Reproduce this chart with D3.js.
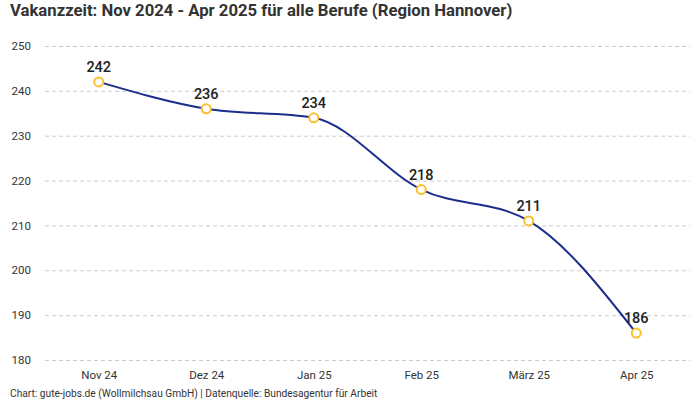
<!DOCTYPE html>
<html>
<head>
<meta charset="utf-8">
<script src="https://cdn.jsdelivr.net/npm/d3@7"></script>
<style>
  body { margin: 0; background: #fff; }
  text { font-family: Roboto, sans-serif; }
</style>
</head>
<body>
<div id="chart"></div>
<script>
const months = ["Nov 24", "Dez 24", "Jan 25", "Feb 25", "März 25", "Apr 25"]
const vakanz = [242, 236, 234, 218, 211, 186]
const yTicks = [180, 190, 200, 210, 220, 230, 240, 250]

const size = [700, 400]
const margin = ({top: 46, right: 10, bottom: 40, left: 45})

const svg = d3.create("svg")
  .attr("width", size[0])
  .attr("height", size[1])

const scaleX = d3.scalePoint()
  .domain(months)
  .range([margin.left, size[0] - margin.right])
  .padding(0.5)

const scaleY = d3.scaleLinear()
  .domain([180, 250])
  .range([size[1] - margin.bottom, margin.top])

// title
svg.append("text")
  .attr("x", 10)
  .attr("y", 16)
  .attr("font-size", 16.7)
  .attr("font-weight", "bold")
  .attr("fill", "#333")
  .text("Vakanzzeit: Nov 2024 - Apr 2025 für alle Berufe (Region Hannover)")

// grid + y axis
const yAxis = g => g
  .attr("transform", `translate(${margin.left},0)`)
  .call(d3.axisLeft(scaleY)
    .tickValues(yTicks)
    .tickSize(-(size[0] - margin.left - margin.right))
    .tickPadding(14))
  .call(g => g.select(".domain").remove())
  .call(g => g.selectAll(".tick line")
    .attr("stroke", "#ccc")
    .attr("stroke-dasharray", "4,3"))
  .call(g => g.selectAll(".tick text")
    .attr("font-size", 11.5)
    .attr("fill", "#333")
    .attr("font-family", "Roboto, sans-serif"))

svg.append("g").call(yAxis)

const xAxis = g => g
  .attr("transform", `translate(0,${size[1] - margin.bottom})`)
  .call(d3.axisBottom(scaleX).tickSize(0).tickPadding(11))
  .call(g => g.select(".domain").remove())
  .call(g => g.selectAll(".tick text")
    .attr("font-size", 11.5)
    .attr("fill", "#333")
    .attr("font-family", "Roboto, sans-serif"))

svg.append("g").call(xAxis)

const data = months.map((m, i) => ({month: m, value: vakanz[i]}))

const line = d3.line()
  .x(d => scaleX(d.month))
  .y(d => scaleY(d.value))
  .curve(d3.curveMonotoneX)

svg.append("path")
  .datum(data)
  .attr("fill", "none")
  .attr("stroke", "#1c2d8c")
  .attr("stroke-width", 2)
  .attr("d", line)

svg.append("g")
  .selectAll("circle")
  .data(data)
  .join("circle")
    .attr("cx", d => scaleX(d.month))
    .attr("cy", d => scaleY(d.value))
    .attr("r", 4.5)
    .attr("fill", "#fff")
    .attr("stroke", "#fbc02d")
    .attr("stroke-width", 2)

svg.append("g")
  .selectAll("text")
  .data(data)
  .join("text")
    .attr("x", d => scaleX(d.month))
    .attr("y", d => scaleY(d.value) - 10)
    .attr("text-anchor", "middle")
    .attr("font-size", 14.5)
    .attr("font-weight", 500)
    .attr("fill", "#222")
    .text(d => d.value)

// source
svg.append("text")
  .attr("x", 10)
  .attr("y", 397)
  .attr("font-size", 10.2)
  .attr("fill", "#333")
  .text("Chart: gute-jobs.de (Wollmilchsau GmbH) | Datenquelle: Bundesagentur für Arbeit")

d3.select("#chart").append(() => svg.node())
</script>
</body>
</html>
